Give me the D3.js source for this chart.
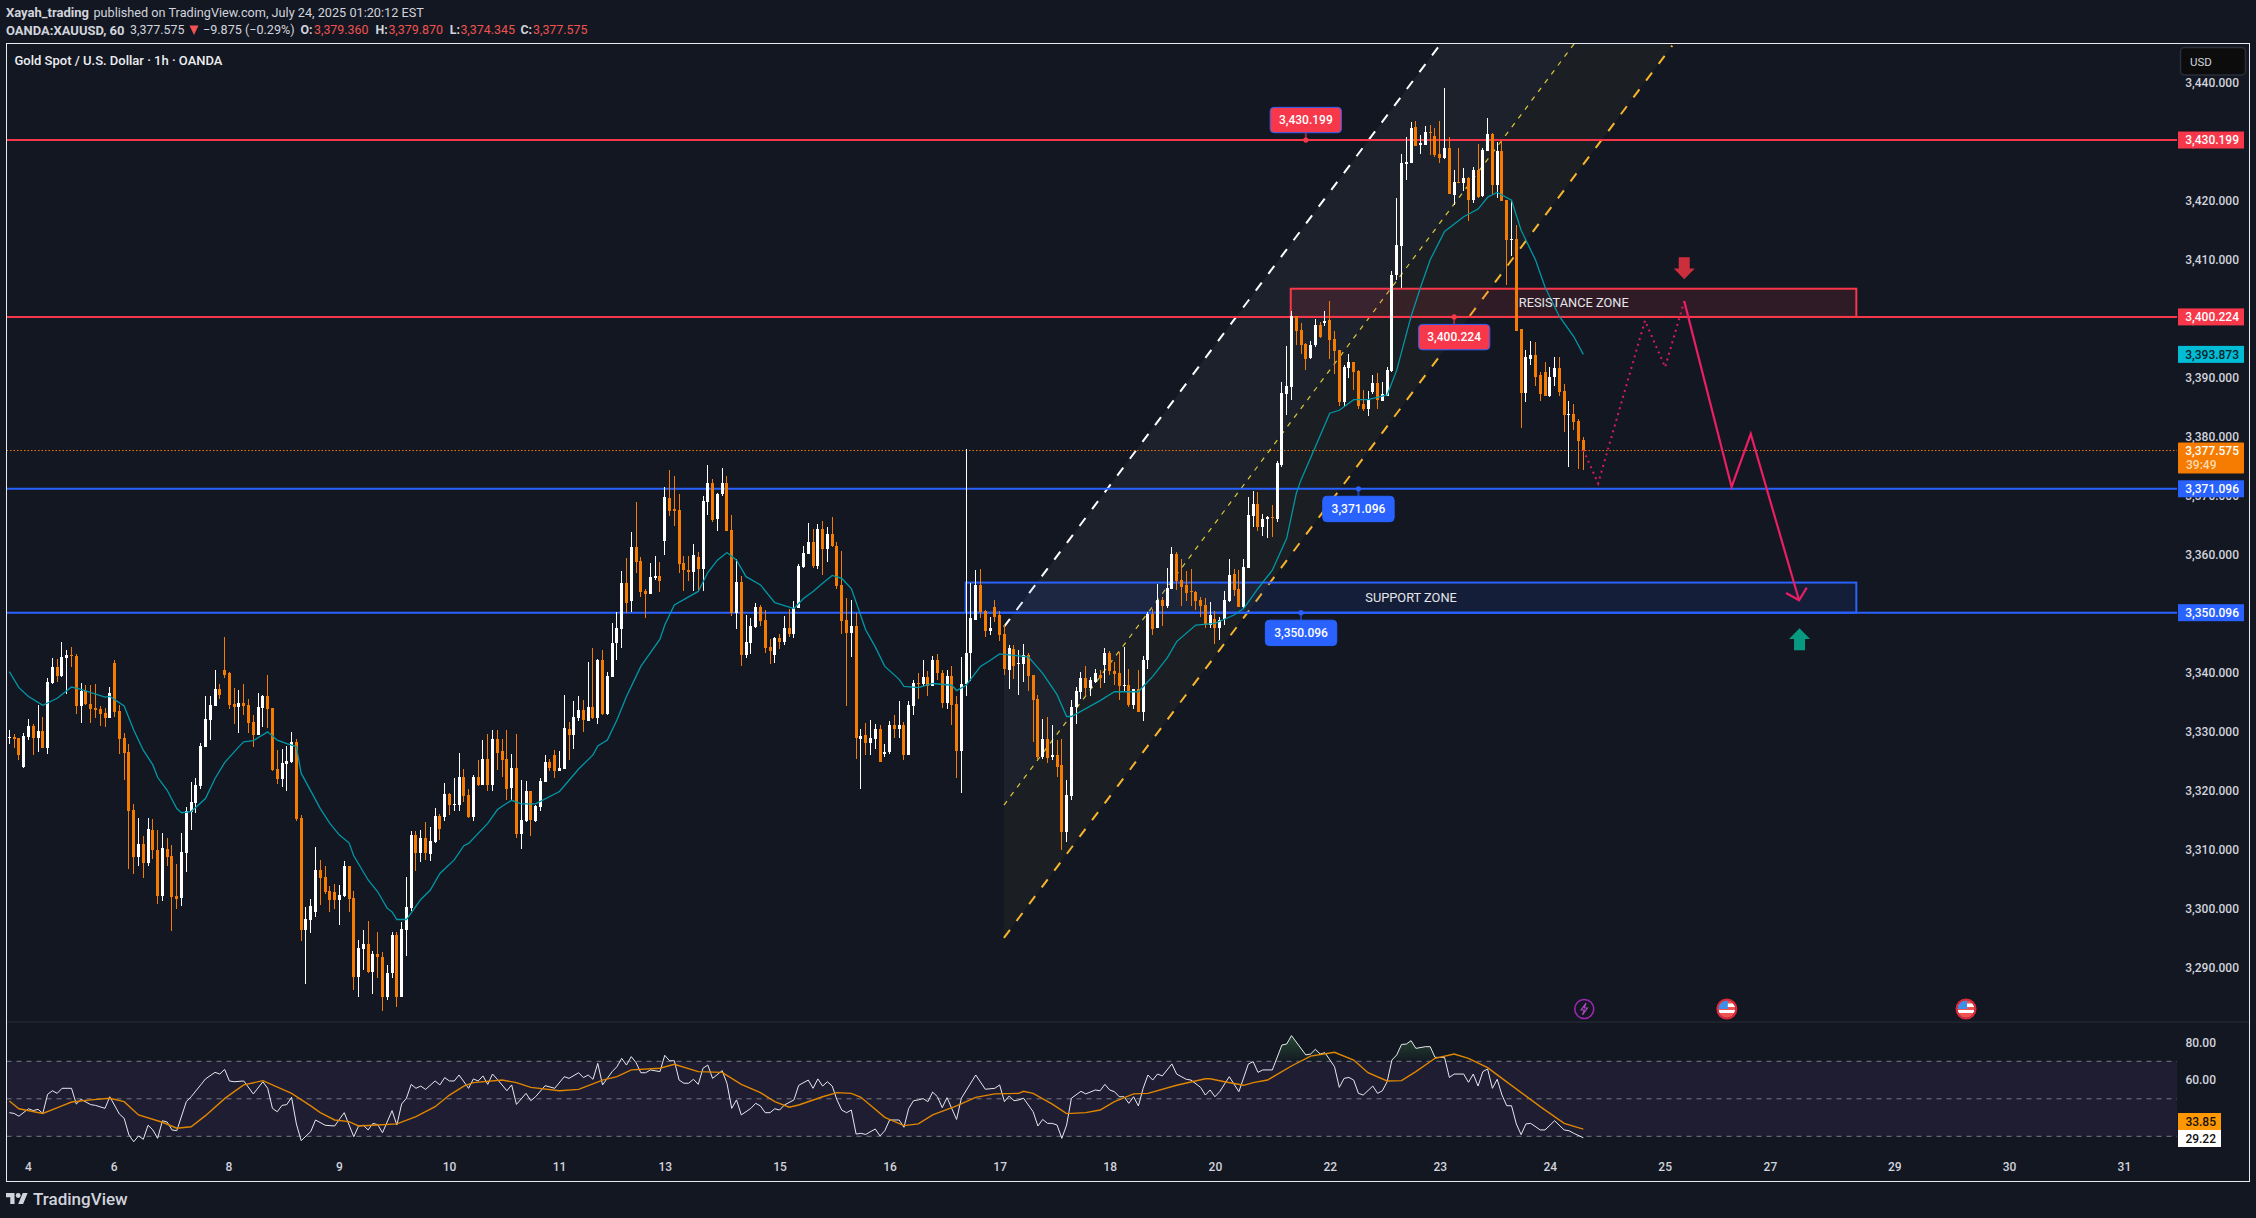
<!DOCTYPE html>
<html>
<head>
<meta charset="utf-8">
<script src="https://cdn.jsdelivr.net/npm/d3@7/dist/d3.min.js"></script>
<style>
    html, body { margin: 0; padding: 0; background: #131722; }
    svg { display: block; }
    text { font-family: Roboto, "Noto Sans", sans-serif; }
</style>
</head>
<body>
<svg id="chart" width="2256" height="1218"></svg>
<script>
// ---------------------------------------------------------------
// Data
// ---------------------------------------------------------------
const opens = [
    3328.9,3329.1,3328.9,3323.9,3329.1,3330.9,3328.9,3330.0,3327.2,3338.2,
    3340.9,3339.3,3342.4,3342.9,3342.7,3334.3,3336.8,3334.6,3333.9,3333.8,
    3333.1,3332.3,3341.6,3333.4,3328.9,3326.5,3316.7,3308.7,3310.9,3307.7,
    3313.3,3309.9,3302.1,3310.1,3308.9,3302.1,3301.8,3309.4,3316.4,3317.9,
    3320.7,3327.3,3331.9,3334.3,3337.2,3340.4,3339.9,3334.6,3334.1,3334.8,
    3334.5,3331.6,3329.4,3333.9,3335.9,3333.9,3323.6,3321.9,3324.5,3324.8,
    3328.2,3315.3,3296.4,3298.0,3299.4,3306.5,3305.3,3303.0,3302.8,3301.4,
    3302.1,3307.1,3301.8,3288.4,3293.1,3294.0,3289.2,3292.3,3291.8,3284.9,
    3289.0,3295.5,3284.9,3296.4,3300.1,3312.5,3309.4,3311.9,3309.2,3311.2,
    3315.7,3315.5,3319.4,3317.5,3317.5,3322.3,3319.2,3315.5,3322.3,3320.9,
    3325.3,3320.9,3328.7,3326.6,3325.3,3320.4,3323.8,3312.6,3314.8,3319.8,
    3314.8,3317.2,3321.4,3324.8,3325.9,3323.2,3323.6,3330.4,3329.4,3332.3,
    3333.6,3331.8,3334.1,3332.3,3342.0,3332.9,3339.2,3345.0,3347.3,3355.2,
    3352.0,3361.3,3358.8,3353.8,3353.3,3355.9,3356.3,3362.2,3369.5,3367.7,
    3367.5,3358.5,3357.4,3357.0,3359.5,3357.5,3368.8,3372.1,3365.9,3370.2,
    3372.1,3364.1,3350.1,3355.3,3342.9,3345.0,3347.7,3351.1,3348.9,3344.3,
    3342.9,3345.8,3345.2,3347.5,3346.5,3350.9,3357.9,3360.0,3362.0,3358.0,
    3364.3,3360.9,3363.4,3361.4,3354.8,3348.9,3346.7,3347.9,3328.7,3329.4,
    3328.0,3328.7,3330.4,3326.2,3326.5,3331.1,3330.4,3331.0,3326.0,3334.3,
    3338.2,3338.0,3339.2,3337.6,3342.1,3339.8,3334.8,3339.3,3334.6,3326.6,
    3338.0,3343.3,3348.9,3354.8,3350.4,3347.0,3351.0,3349.7,3346.5,3340.4,
    3344.0,3341.4,3341.4,3343.0,3339.6,3335.5,3325.6,3328.7,3325.6,3325.9,
    3324.2,3313.0,3319.0,3334.1,3336.6,3339.0,3337.4,3338.3,3339.6,3341.3,
    3343.3,3340.2,3339.8,3337.7,3337.9,3334.5,3337.2,3333.3,3342.0,3349.9,
    3347.5,3352.2,3351.3,3354.1,3360.0,3355.6,3354.8,3353.8,3353.6,3352.2,
    3351.4,3348.0,3349.0,3347.5,3349.0,3352.1,3356.7,3354.1,3351.1,3357.6,
    3366.5,3368.6,3364.7,3366.0,3366.3,3365.9,3375.2,3387.2,3388.3,3400.4,
    3398.0,3395.6,3393.3,3395.4,3398.8,3399.2,3399.7,3396.5,3394.6,3385.8,
    3391.5,3392.6,3391.0,3385.4,3384.6,3387.5,3389.0,3385.9,3386.8,3391.0,
    3407.3,3412.2,3426.1,3426.3,3432.4,3429.4,3429.4,3431.5,3430.8,3427.8,
    3427.1,3428.8,3420.8,3423.1,3422.9,3423.7,3420.1,3425.1,3420.7,3428.3,
    3431.2,3422.6,3428.3,3420.0,3413.3,3413.5,3398.1,3387.3,3393.1,3393.8,
    3390.4,3390.9,3386.8,3390.0,3391.5,3387.7,3383.6,3383.8,3382.5,3379.36
]
const highs = [
    3330.2,3329.6,3328.9,3329.7,3332.1,3331.2,3334.5,3332.5,3339.0,3342.4,
    3342.3,3345.2,3343.8,3344.3,3343.1,3338.2,3337.9,3337.9,3338.0,3334.3,
    3333.9,3337.5,3342.1,3334.5,3329.7,3327.9,3317.7,3315.3,3312.3,3315.3,
    3315.2,3313.3,3312.8,3311.9,3310.7,3307.5,3312.8,3317.2,3321.4,3322.1,
    3328.0,3335.9,3335.9,3340.4,3338.0,3346.0,3340.0,3337.3,3337.0,3338.0,
    3335.5,3332.8,3336.5,3336.1,3339.6,3333.9,3326.8,3327.0,3327.5,3329.9,
    3328.7,3315.8,3300.3,3301.6,3310.4,3308.2,3307.1,3303.8,3304.1,3304.0,
    3308.0,3307.2,3303.0,3294.6,3296.4,3297.8,3292.8,3296.0,3292.6,3290.4,
    3296.0,3296.0,3297.6,3305.3,3313.1,3313.1,3313.3,3314.7,3313.7,3317.0,
    3316.0,3321.2,3319.6,3322.1,3326.4,3323.6,3320.2,3322.6,3325.2,3328.6,
    3329.6,3330.2,3330.2,3328.7,3330.2,3326.2,3329.6,3321.8,3321.6,3319.9,
    3317.5,3322.0,3326.0,3325.3,3326.8,3326.6,3336.2,3331.6,3335.2,3336.0,
    3335.3,3341.8,3344.1,3342.3,3343.8,3340.0,3348.4,3350.2,3357.2,3359.3,
    3363.8,3368.8,3359.5,3354.1,3358.5,3359.7,3358.7,3371.4,3374.3,3373.3,
    3370.2,3359.7,3359.7,3361.8,3360.4,3369.9,3375.1,3372.7,3370.4,3374.6,
    3373.3,3366.7,3359.2,3356.3,3349.7,3349.2,3351.8,3351.4,3350.5,3345.7,
    3345.9,3346.5,3349.5,3350.7,3352.1,3358.4,3361.4,3365.3,3364.3,3365.1,
    3365.6,3364.7,3366.3,3362.0,3360.6,3352.6,3352.2,3350.1,3330.4,3331.4,
    3331.9,3331.2,3331.0,3327.9,3331.8,3332.7,3335.2,3331.6,3335.2,3338.7,
    3339.8,3342.1,3340.2,3342.7,3343.1,3340.3,3340.3,3341.1,3336.0,3342.6,
    3377.8,3355.2,3357.4,3357.5,3350.5,3349.3,3352.2,3350.4,3348.1,3344.6,
    3344.6,3343.8,3344.8,3343.2,3339.6,3336.2,3332.1,3332.5,3331.1,3328.6,
    3328.7,3321.8,3335.3,3337.5,3340.0,3341.1,3339.2,3340.6,3340.3,3344.1,
    3343.6,3341.8,3343.4,3344.3,3340.6,3337.2,3340.3,3342.7,3350.2,3350.7,
    3355.0,3352.7,3357.6,3361.3,3360.4,3359.2,3357.2,3357.5,3353.8,3352.7,
    3352.6,3351.9,3350.4,3349.4,3353.8,3359.2,3357.5,3357.4,3359.2,3369.7,
    3370.8,3370.6,3366.9,3366.5,3368.3,3375.8,3389.2,3395.3,3401.3,3400.4,
    3399.2,3395.8,3396.1,3399.9,3399.3,3401.2,3402.9,3397.8,3394.6,3392.0,
    3393.9,3392.6,3391.2,3387.9,3387.7,3390.4,3390.7,3389.2,3391.7,3408.0,
    3420.3,3427.8,3430.7,3433.2,3433.5,3431.0,3432.6,3432.7,3432.2,3433.4,
    3439.0,3430.7,3425.1,3428.8,3425.4,3423.9,3425.6,3429.6,3428.8,3433.9,
    3431.4,3429.8,3430.0,3420.0,3420.0,3415.8,3398.1,3394.7,3396.1,3395.9,
    3390.9,3392.6,3391.7,3393.4,3393.4,3388.8,3385.9,3385.4,3382.9,3379.87
]
const lows = [
    3327.9,3327.1,3325.2,3323.7,3328.6,3325.9,3326.5,3327.2,3326.2,3338.0,
    3338.4,3339.2,3336.3,3340.9,3332.9,3331.4,3334.5,3331.4,3332.3,3330.9,
    3330.7,3332.3,3332.5,3326.2,3321.8,3306.7,3305.8,3307.2,3305.1,3307.2,
    3308.4,3300.8,3301.2,3307.2,3296.2,3299.8,3300.4,3306.2,3313.3,3316.2,
    3320.2,3327.3,3328.6,3334.3,3335.5,3339.0,3333.8,3331.2,3329.7,3332.8,
    3329.7,3327.3,3329.4,3330.7,3330.6,3323.3,3321.1,3320.6,3319.9,3324.6,
    3314.8,3294.4,3287.1,3295.8,3298.5,3300.6,3302.4,3299.4,3299.8,3297.2,
    3301.9,3299.4,3286.2,3284.9,3289.6,3289.1,3285.5,3288.2,3282.6,3284.4,
    3288.2,3283.3,3284.9,3291.9,3299.6,3306.4,3307.9,3308.2,3308.0,3311.1,
    3311.6,3314.8,3315.8,3316.5,3316.5,3318.0,3315.3,3314.8,3320.7,3320.9,
    3319.9,3319.9,3323.4,3322.3,3318.4,3318.4,3311.9,3310.1,3314.6,3312.3,
    3314.6,3316.5,3321.4,3323.3,3322.0,3323.2,3323.6,3325.2,3327.0,3331.8,
    3329.8,3331.8,3332.1,3331.2,3332.8,3332.8,3339.2,3342.0,3344.1,3350.0,
    3350.2,3356.8,3352.7,3349.2,3353.3,3355.6,3353.6,3359.9,3366.5,3364.8,
    3356.8,3353.8,3355.4,3353.8,3353.6,3353.8,3366.7,3365.4,3363.9,3369.9,
    3363.9,3349.6,3347.3,3341.1,3342.5,3343.1,3347.5,3347.9,3343.3,3341.4,
    3341.6,3344.0,3344.6,3345.9,3345.8,3350.9,3357.6,3360.0,3357.6,3357.5,
    3356.5,3358.7,3361.3,3354.1,3346.5,3334.3,3342.6,3325.3,3320.2,3325.9,
    3325.9,3327.0,3324.8,3325.7,3326.1,3328.9,3328.9,3325.2,3326.0,3332.8,
    3335.5,3337.7,3336.0,3337.6,3338.7,3334.0,3333.8,3331.0,3322.0,3319.6,
    3336.0,3338.6,3348.9,3349.2,3345.9,3346.3,3348.5,3345.3,3339.5,3337.1,
    3338.8,3336.1,3338.3,3336.8,3328.1,3325.3,3325.3,3324.6,3325.2,3322.3,
    3309.8,3311.2,3318.4,3331.2,3335.5,3336.0,3336.0,3338.1,3337.4,3338.1,
    3339.6,3337.9,3335.3,3336.8,3334.1,3333.8,3333.3,3331.8,3340.6,3346.3,
    3347.5,3347.8,3350.9,3354.1,3353.9,3351.3,3352.1,3351.3,3350.5,3349.4,
    3347.5,3347.5,3344.8,3345.4,3348.0,3351.9,3352.9,3351.1,3350.9,3357.6,
    3364.7,3363.9,3363.1,3362.7,3362.9,3365.4,3374.8,3383.6,3386.1,3395.4,
    3393.9,3391.3,3393.1,3395.1,3396.7,3398.6,3393.1,3390.6,3385.2,3385.2,
    3389.9,3387.9,3384.6,3384.3,3383.4,3387.2,3384.6,3385.9,3386.8,3390.9,
    3406.5,3405.1,3423.5,3426.3,3429.2,3427.8,3429.4,3427.6,3427.4,3426.3,
    3426.9,3421.0,3419.2,3422.9,3421.5,3416.5,3419.5,3420.3,3420.5,3428.3,
    3421.0,3420.3,3419.8,3405.6,3410.6,3397.9,3381.4,3385.8,3392.0,3388.5,
    3385.9,3386.8,3386.6,3388.5,3386.8,3380.7,3374.8,3381.1,3374.5,3374.345
]
const closes = [
    3329.1,3328.7,3325.9,3329.2,3330.9,3328.9,3330.0,3327.2,3338.4,3340.9,
    3339.3,3342.6,3342.9,3342.7,3334.3,3336.8,3334.6,3333.8,3333.6,3332.9,
    3332.3,3336.5,3333.3,3328.7,3326.4,3316.5,3308.7,3310.9,3307.7,3313.5,
    3309.8,3302.1,3310.3,3308.7,3301.9,3301.6,3309.6,3316.5,3318.0,3320.9,
    3327.5,3332.1,3334.5,3337.2,3336.1,3339.5,3334.5,3334.1,3334.8,3334.3,
    3331.4,3329.4,3334.1,3335.9,3333.8,3323.4,3321.9,3324.6,3325.0,3328.2,
    3315.2,3296.4,3298.2,3300.4,3306.5,3305.1,3302.8,3301.4,3301.4,3302.3,
    3307.2,3301.6,3288.4,3293.3,3294.0,3289.2,3292.3,3291.8,3284.9,3289.1,
    3295.5,3284.9,3296.5,3300.3,3312.5,3309.4,3311.9,3309.4,3311.4,3315.7,
    3313.5,3319.4,3317.5,3317.7,3322.3,3319.1,3315.5,3322.3,3320.9,3325.3,
    3320.9,3328.7,3326.4,3325.2,3320.2,3323.8,3312.6,3315.0,3319.8,3315.0,
    3317.3,3321.6,3324.8,3323.8,3323.3,3323.8,3330.6,3329.4,3332.5,3333.6,
    3331.9,3334.1,3332.3,3342.1,3332.9,3339.3,3345.0,3347.5,3355.2,3351.8,
    3361.3,3358.7,3353.6,3353.3,3356.1,3356.3,3355.4,3369.7,3367.4,3367.4,
    3358.4,3357.4,3357.0,3359.9,3357.5,3369.0,3372.1,3365.8,3370.2,3372.1,
    3363.9,3350.1,3355.3,3342.9,3345.2,3347.9,3351.1,3348.7,3344.1,3343.6,
    3345.8,3345.2,3347.5,3346.5,3350.9,3358.0,3360.2,3362.0,3358.0,3364.3,
    3360.9,3363.4,3361.4,3354.6,3348.7,3346.7,3347.9,3328.9,3329.2,3328.0,
    3328.9,3330.4,3324.8,3326.5,3331.1,3330.4,3331.0,3326.0,3334.5,3338.2,
    3338.0,3339.2,3337.6,3342.1,3339.8,3334.8,3339.3,3334.5,3326.6,3338.0,
    3343.3,3349.2,3354.8,3350.2,3347.0,3347.5,3349.4,3346.3,3340.5,3344.1,
    3341.1,3341.6,3343.0,3339.4,3335.3,3325.6,3328.7,3325.4,3325.9,3324.0,
    3313.0,3319.2,3334.1,3336.8,3339.0,3337.4,3338.7,3339.8,3339.0,3343.3,
    3340.2,3339.7,3337.7,3337.9,3334.5,3337.2,3333.3,3342.1,3349.9,3347.3,
    3352.2,3351.3,3354.3,3360.0,3355.4,3354.5,3353.4,3353.6,3352.1,3351.3,
    3348.0,3349.7,3347.5,3348.9,3352.2,3356.5,3353.9,3351.1,3357.9,3366.7,
    3368.6,3364.7,3366.0,3366.3,3366.2,3375.4,3387.3,3388.5,3400.4,3397.8,
    3395.4,3393.1,3395.4,3398.8,3396.8,3399.5,3396.3,3394.4,3385.8,3391.7,
    3392.6,3390.9,3385.2,3384.6,3386.1,3389.0,3386.1,3387.2,3391.3,3407.4,
    3412.4,3426.3,3426.4,3432.2,3429.2,3429.7,3431.5,3431.4,3427.6,3427.1,
    3428.8,3421.0,3423.1,3422.9,3423.7,3420.1,3425.1,3420.5,3428.5,3431.2,
    3422.6,3428.3,3419.8,3413.3,3413.5,3397.9,3387.3,3393.4,3393.8,3390.0,
    3387.2,3386.8,3390.0,3391.5,3387.5,3383.6,3383.8,3382.4,3379.2,3377.575
]

// moving average on the candles: bar index and value of each vertex
const maBars = [
    0,2,4,7,10,13,15,20,21,24,26,28,30,31,33,35,36,38,41,43,45,48,49,51,54,56,58,60,61,63,
    65,67,69,71,72,75,77,79,80,81,83,86,88,90,93,95,96,100,102,
    103,105,107,110,115,117,119,122,123,125,127,129,132,136,137,139,144,146,148,150,152,154,157,160,
    164,166,168,170,172,174,176,179,181,183,186,187,190,193,197,198,200,203,205,207,
    213,216,219,221,222,228,231,236,239,242,244,248,252,256,258,261,264,267,269,
    270,273,276,278,281,284,288,290,293,295,297,300,304,307,309,311,314,316,319,321,324,327,329
]
const maValues = [
    3340.1,3337.4,3335.9,3334.4,3335.6,3337.5,3337.1,3335.8,3335.9,3334.3,3330.2,3326.8,3324.3,3322.2,3320.0,3316.9,3316.2,3316.4,3318.6,3322.0,3324.7,3327.4,3328.2,3328.4,3329.9,3328.5,3327.9,3327.4,3322.9,3319.9,
    3316.9,3314.4,3312.4,3311.1,3308.9,3304.8,3302.8,3300.0,3299.4,3298.1,3298.1,3301.5,3303.1,3305.9,3308.2,3310.6,3311.0,3314.4,3316.7,
    3317.3,3318.3,3317.7,3317.7,3319.8,3321.7,3323.6,3326.0,3327.5,3328.5,3331.9,3335.9,3341.0,3345.6,3348.0,3351.4,3353.7,3356.9,3359.0,3360.3,3359.0,3356.2,3354.8,3351.8,
    3350.8,3352.5,3353.7,3355.1,3356.4,3355.9,3354.2,3347.2,3344.3,3341.0,3338.8,3337.6,3337.4,3338.1,3337.8,3336.9,3337.8,3341.0,3342.0,3343.1,
    3342.6,3339.8,3336.2,3332.5,3332.5,3335.2,3336.7,3336.7,3339.3,3342.4,3345.2,3348.0,3348.3,3349.7,3350.8,3354.2,3357.3,3362.7,3370.3,
    3372.6,3378.2,3383.9,3384.4,3386.2,3386.2,3387.0,3391.2,3400.3,3405.3,3409.9,3414.7,3417.2,3418.5,3420.5,3421.3,3420.0,3414.9,3409.9,3405.3,3400.3,3396.9,3393.873
]

// RSI pane: bar index and value of each vertex
const rsiBars = [
    0,1,2,4,5,6,7,8,9,10,11,13,14,15,17,18,20,21,23,24,25,26,27,28,29,30,31,32,33,34,35,37,38,40,41,43,44,45,46,47,49,51,53,54,55,56,57,58,59,60,
    61,63,64,66,68,70,72,73,74,75,76,77,78,80,81,82,83,84,85,86,87,89,90,91,92,93,94,96,97,98,99,100,101,102,104,105,106,108,109,110,112,114,116,117,119,120,121,122,123,124,
    126,127,128,129,130,131,132,133,134,136,137,138,139,140,141,142,143,144,145,146,147,149,150,151,152,153,155,156,157,158,159,160,161,162,164,165,167,168,169,170,171,172,173,174,175,176,177,178,179,181,
    182,183,184,186,187,188,189,190,191,192,193,194,195,196,198,199,202,204,206,207,208,209,210,211,212,214,215,216,217,218,219,220,221,222,224,225,227,228,229,230,231,232,233,234,235,236,237,238,239,240,
    241,243,244,246,247,249,250,251,252,253,255,257,259,260,261,262,264,266,267,268,271,272,273,274,275,277,278,279,280,281,282,283,285,286,287,288,289,290,291,292,293,294,296,297,298,300,301,302,304,305,
    306,307,308,309,310,311,312,313,314,315,316,317,318,320,321,323,325,326,327,329
]
const rsiValues = [
    42.6,42.2,40.7,44.7,43.7,44.4,42.2,52.4,54.3,52.9,55.6,55.6,47.2,49.7,46.9,46.5,44.9,51.1,41.9,39.6,30.7,27.1,30.2,28.4,35.9,33.4,28.9,38.3,37.6,33.4,33.0,48.5,51.1,57.4,60.6,64.1,63.2,65.7,59.5,59.1,59.5,52.6,59.1,55.6,44.9,43.1,46.5,46.9,50.8,36.6,
    27.7,32.5,38.7,35.9,35.5,42.6,29.8,35.5,35.9,33.4,36.9,36.2,31.9,43.7,36.0,47.2,50.3,57.7,55.6,56.8,55.0,59.5,57.4,61.3,59.5,59.5,62.7,55.6,60.6,59.5,62.2,57.7,63.2,60.4,54.3,57.4,47.0,52.9,49.0,51.1,57.0,55.6,61.8,60.9,63.9,61.3,62.7,60.4,68.9,57.4,
    64.5,67.1,71.6,68.0,72.5,69.3,63.9,63.9,65.4,64.5,73.2,70.3,70.3,60.0,58.3,58.3,60.4,57.7,66.3,68.0,60.9,65.0,58.3,44.9,49.4,41.4,44.9,47.6,46.2,42.6,42.6,44.7,44.0,46.7,49.4,57.2,60.0,55.6,60.6,56.8,59.1,56.8,49.4,44.0,42.6,44.0,31.2,31.6,31.0,33.9,
    30.2,33.0,38.7,38.7,34.8,44.9,49.0,49.4,50.1,48.5,53.6,51.1,45.3,50.6,39.0,50.3,62.7,55.1,55.6,57.4,48.5,51.5,49.0,49.4,50.3,43.1,35.5,39.0,36.9,36.9,36.0,28.9,36.0,50.3,54.0,52.6,54.7,54.3,57.7,54.7,53.8,51.1,51.1,47.6,51.1,46.2,55.6,62.7,60.0,63.2,
    62.2,68.6,63.2,60.4,60.0,56.1,52.0,54.7,51.1,53.8,61.8,53.8,68.6,69.8,64.1,65.4,65.4,78.7,79.2,83.7,73.4,73.9,76.4,73.9,74.6,67.1,56.1,60.9,61.4,60.0,52.9,52.0,56.8,52.9,54.3,59.1,70.7,73.4,79.0,79.2,81.0,76.9,77.8,77.8,72.1,72.1,61.4,63.2,63.2,58.8,
    63.2,56.8,64.5,65.9,55.6,60.4,52.0,46.3,46.3,36.6,30.9,36.6,36.9,33.4,33.4,38.3,33.4,33.0,31.6,29.22
]
const rsiMaBars = [
    0,2,7,11,13,17,21,24,27,32,35,38,41,45,47,49,53,59,63,65,68,71,73,77,81,85,89,92,95,97,103,106,109,115,119,124,127,130,136,139,144,149,153,157,160,163,165,
    170,173,176,178,183,187,190,193,198,202,206,211,212,214,218,221,225,228,231,235,238,244,250,251,254,258,260,263,268,272,277,281,284,288,291,294,298,302,305,309,312,320,325,329
]
const rsiMaValues = [
    48.8,44.7,42.2,46.2,48.3,49.4,50.3,48.5,41.4,37.5,34.3,35.1,41.0,50.1,53.8,57.4,59.7,52.9,46.2,42.6,38.7,37.8,35.5,36.0,36.6,40.5,45.8,52.0,56.8,58.6,60.0,58.6,56.1,54.3,55.0,60.0,61.8,65.4,66.3,68.4,64.5,64.1,57.7,53.3,48.5,45.5,46.7,
    51.1,53.3,52.9,50.8,40.1,35.7,36.6,41.4,46.2,50.8,52.6,52.9,54.0,52.9,47.2,42.1,42.6,44.0,48.5,52.6,52.9,57.2,60.7,60.7,59.1,57.2,58.6,60.0,67.5,72.8,74.8,70.7,63.9,59.5,59.7,64.5,71.6,73.9,71.6,66.6,60.9,45.8,36.9,33.85
]

const priceTicks = [3440,3430,3420,3410,3400,3390,3380,3370,3360,3350,3340,3330,3320,3310,3300,3290]
const rsiTicks = [80, 60]
const rsiBands = [70, 50, 30]
const dayBars = [3.9,21.8,45.8,68.9,91.9,114.9,137,161,184,207,230,252,276,299,322,346,368,394,418,442]
const dayLabels = ['4','6','8','9','10','11','13','15','16','17','18','20','22','23','24','25','27','29','30','31']

const levelPrices = [3430.199, 3400.224, 3371.096, 3350.096]
const levelLabels = ['3,430.199', '3,400.224', '3,371.096', '3,350.096']
const levelKinds = ['res', 'res', 'sup', 'sup']
const calloutBars = [271, 302, 282, 270]

const zoneNames = ['RESISTANCE ZONE', 'SUPPORT ZONE']
const zoneBars = [[267.85, 386.07], [199.9, 386.07]]
const zonePrices = [[3405.0, 3400.224], [3355.2, 3350.096]]
const zoneLabelBars = [327, 293]
const zoneKinds = ['res', 'sup']

const channelBars = [207.9, 347.6]
const channelUpper = [3347.7, 3498.9]
const channelMiddle = [3317.5, 3468.7]
const channelLower = [3295.0, 3446.2]

const dottedBars = [329, 332.1, 341.9, 346.1, 350.1]
const dottedPrices = [3377.7, 3372.0, 3399.6, 3391.7, 3402.9]
const pathBars = [350.1, 360, 364, 374.1]
const pathPrices = [3402.9, 3371.4, 3380.4, 3352.2]

const lastPrice = 3377.575
const maLast = 3393.873
const lightningBar = 329.2
const flagBars = [359, 409]
const downArrow = { bar: 350.1, price: 3406.6 }
const upArrow = { bar: 374.2, price: 3347.45 }

// ---------------------------------------------------------------
// Layout and colours
// ---------------------------------------------------------------
const BG = '#131722'
const TEXT = '#d1d4dc'
const UP = '#ffffff'
const DOWN = '#f57c00'
const RED = '#f7374a'
const BLUE = '#2962ff'
const FRAME = { left: 6.5, top: 43.5, right: 2249.5, bottom: 1181.5 }
const PLOT_RIGHT = 2177
const PANE_SPLIT = 1022
const AXIS_TEXT_X = 2239

const svg = d3.select('#chart')

const x = d3.scaleLinear().domain([0, 329]).range([9.33, 1583.3])
const y = d3.scaleLinear().domain([3440, 3290]).range([82.2, 967.3])
const yRsi = d3.scaleLinear().domain([70, 30]).range([1061.3, 1136.3])

svg.append('rect').attr('width', 2256).attr('height', 1218).attr('fill', BG)

const defs = svg.append('defs')
defs.append('clipPath').attr('id', 'mainClip').append('rect')
    .attr('x', FRAME.left).attr('y', FRAME.top)
    .attr('width', PLOT_RIGHT - FRAME.left).attr('height', PANE_SPLIT - FRAME.top)
defs.append('clipPath').attr('id', 'aboveBand').append('rect')
    .attr('x', FRAME.left).attr('y', PANE_SPLIT)
    .attr('width', PLOT_RIGHT - FRAME.left).attr('height', yRsi(70) - PANE_SPLIT)
const grad = defs.append('linearGradient').attr('id', 'rsiGreen')
    .attr('x1', 0).attr('x2', 0).attr('y1', 0).attr('y2', 1)
    .attr('gradientUnits', 'userSpaceOnUse')
    .attr('y1', yRsi(84)).attr('y2', yRsi(70))
grad.append('stop').attr('offset', 0).attr('stop-color', '#4caf50').attr('stop-opacity', 0.32)
grad.append('stop').attr('offset', 1).attr('stop-color', '#4caf50').attr('stop-opacity', 0.02)

function label(parent, tx, ty, str, size, fill, weight, anchor) {
    return parent.append('text')
        .attr('x', tx).attr('y', ty).attr('dy', '.35em')
        .attr('text-anchor', anchor || 'start')
        .style('font-size', size + 'px')
        .style('font-weight', weight || 400)
        .attr('fill', fill)
        .text(str)
}

// ---------------------------------------------------------------
// Header
// ---------------------------------------------------------------
const head = svg.append('g')
label(head, 6, 12.8, 'Xayah_trading', 13, TEXT, 700)
label(head, 93.4, 12.8, 'published on TradingView.com, July 24, 2025 01:20:12 EST', 12.7, TEXT)
label(head, 6, 30, 'OANDA:XAUUSD, 60', 13, TEXT, 700)
label(head, 130, 30, '3,377.575', 12.4, TEXT)
head.append('path').attr('d', 'M189.5,25.5h9l-4.5,9.5z').attr('fill', '#f05350')
label(head, 203, 30, '\u22129.875 (\u22120.29%)', 12.6, TEXT)
const ohlcNames = ['O:', 'H:', 'L:', 'C:']
const ohlcValues = ['3,379.360', '3,379.870', '3,374.345', '3,377.575']
const ohlcNameX = [300.4, 375.4, 449.7, 520.5]
const ohlcValueX = [314, 388.4, 460.4, 533]
ohlcNames.forEach((n, i) => {
    label(head, ohlcNameX[i], 30, n, 12.4, TEXT, 700)
    label(head, ohlcValueX[i], 30, ohlcValues[i], 12.4, '#ef5350')
})

// ---------------------------------------------------------------
// Main pane
// ---------------------------------------------------------------
const main = svg.append('g').attr('clip-path', 'url(#mainClip)')

// channel fill, two bands
function channelBand(a, b, fill) {
    const pts = [[channelBars[0], a[0]], [channelBars[1], a[1]], [channelBars[1], b[1]], [channelBars[0], b[0]]]
    main.append('path')
        .attr('d', d3.line().x(d => x(d[0])).y(d => y(d[1]))(pts) + 'Z')
        .attr('fill', fill)
}
channelBand(channelUpper, channelMiddle, 'rgba(120,123,134,0.1)')
channelBand(channelMiddle, channelLower, 'rgba(255,235,59,0.035)')

function channelLine(vals, color, width, dash) {
    main.append('line')
        .attr('x1', x(channelBars[0])).attr('y1', y(vals[0]))
        .attr('x2', x(channelBars[1])).attr('y2', y(vals[1]))
        .attr('stroke', color).attr('stroke-width', width).attr('stroke-dasharray', dash)
}
channelLine(channelUpper, '#ffffff', 2, '10 11')
channelLine(channelMiddle, '#d9c93a', 1.2, '5 6')
channelLine(channelLower, '#f7b52c', 2, '10 11')

// zones
zoneNames.forEach((n, i) => {
    const col = zoneKinds[i] === 'res' ? RED : BLUE
    main.append('rect')
        .attr('x', x(zoneBars[i][0])).attr('y', y(zonePrices[i][0]))
        .attr('width', x(zoneBars[i][1]) - x(zoneBars[i][0]))
        .attr('height', y(zonePrices[i][1]) - y(zonePrices[i][0]))
        .attr('fill', zoneKinds[i] === 'res' ? 'rgba(242,54,69,0.13)' : 'rgba(41,98,255,0.1)')
        .attr('stroke', col).attr('stroke-width', 2)
})

// horizontal levels
levelPrices.forEach((p, i) => {
    main.append('line')
        .attr('x1', FRAME.left).attr('x2', PLOT_RIGHT)
        .attr('y1', y(p)).attr('y2', y(p))
        .attr('stroke', levelKinds[i] === 'res' ? RED : BLUE)
        .attr('stroke-width', 2)
})

// last price line
main.append('line')
    .attr('x1', FRAME.left).attr('x2', PLOT_RIGHT)
    .attr('y1', y(lastPrice)).attr('y2', y(lastPrice))
    .attr('stroke', DOWN).attr('stroke-width', 1).attr('stroke-dasharray', '1.5 2')

// candles
const candles = main.append('g')
closes.forEach((c, i) => {
    const color = c >= opens[i] ? UP : DOWN
    const cx = Math.floor(x(i))
    const top = Math.round(y(Math.max(opens[i], c)))
    const bot = Math.round(y(Math.min(opens[i], c)))
    candles.append('rect')
        .attr('x', cx).attr('width', 1)
        .attr('y', Math.round(y(highs[i])))
        .attr('height', Math.max(1, Math.round(y(lows[i])) - Math.round(y(highs[i]))))
        .attr('fill', color)
    candles.append('rect')
        .attr('x', cx - 1).attr('width', 3)
        .attr('y', top).attr('height', Math.max(1, bot - top))
        .attr('fill', color)
})

// moving average
main.append('path')
    .attr('d', d3.line().x((d, i) => x(maBars[i])).y(d => y(d))(maValues))
    .attr('fill', 'none').attr('stroke', '#0097a7').attr('stroke-width', 1.3)

// zone captions
zoneNames.forEach((n, i) => {
    const midY = (y(zonePrices[i][0]) + y(zonePrices[i][1])) / 2
    label(main, x(zoneLabelBars[i]), midY, n, 12.8, '#e4e6eb', 400, 'middle')
})

// projected path
main.append('path')
    .attr('d', d3.line().x((d, i) => x(dottedBars[i])).y(d => y(d))(dottedPrices))
    .attr('fill', 'none').attr('stroke', '#d81b60').attr('stroke-width', 2)
    .attr('stroke-dasharray', '2 4')
main.append('path')
    .attr('d', d3.line().x((d, i) => x(pathBars[i])).y(d => y(d))(pathPrices))
    .attr('fill', 'none').attr('stroke', '#e91e63').attr('stroke-width', 2.2)
const tipX = x(pathBars[3])
const tipY = y(pathPrices[3])
main.append('path')
    .attr('d', `M${tipX - 13},${tipY - 7.3}L${tipX},${tipY}L${tipX + 7.7},${tipY - 12.7}`)
    .attr('fill', 'none').attr('stroke', '#e91e63').attr('stroke-width', 2.2)

// block arrows; the price anchors the tip, dir -1 points down and +1 points up
function blockArrow(bar, price, dir, color) {
    const cx = x(bar)
    const cy = y(price)
    const pts = [
        [cx, cy],
        [cx + 10.5, cy + dir * 10.7],
        [cx + 5.5, cy + dir * 10.7],
        [cx + 5.5, cy + dir * 22],
        [cx - 5.5, cy + dir * 22],
        [cx - 5.5, cy + dir * 10.7],
        [cx - 10.5, cy + dir * 10.7]
    ]
    main.append('path').attr('d', d3.line()(pts) + 'Z').attr('fill', color)
}
blockArrow(downArrow.bar, downArrow.price, -1, '#cc2f3c')
blockArrow(upArrow.bar, upArrow.price, 1, '#089981')

// callouts hanging off the levels
levelPrices.forEach((p, i) => {
    const res = levelKinds[i] === 'res'
    const above = i === 0
    const cx = x(calloutBars[i])
    const ly = y(p)
    const boxTop = above ? ly - 32.7 : ly + 7.5
    const col = res ? RED : BLUE
    main.append('line')
        .attr('x1', cx).attr('x2', cx)
        .attr('y1', ly).attr('y2', above ? boxTop + 25 : boxTop)
        .attr('stroke', col).attr('stroke-opacity', 0.6).attr('stroke-width', 2)
    main.append('circle').attr('cx', cx).attr('cy', ly).attr('r', 2.6).attr('fill', col)
    main.append('rect')
        .attr('x', cx - 35.7).attr('y', boxTop)
        .attr('width', 71.4).attr('height', 25.4).attr('rx', 4)
        .attr('fill', col)
        .attr('stroke', BLUE).attr('stroke-width', 1)
    label(main, cx, boxTop + 12.5, levelLabels[i], 12, '#ffffff', 500, 'middle')
})

// ---------------------------------------------------------------
// Price axis
// ---------------------------------------------------------------
const yAxis = d3.axisRight(y).tickValues(priceTicks)
    .tickSize(0).tickPadding(0).tickFormat(d3.format(',.3f'))
const yAxisG = svg.append('g').attr('transform', `translate(${AXIS_TEXT_X},0)`).call(yAxis)
yAxisG.select('.domain').remove()
yAxisG.selectAll('text')
    .attr('text-anchor', 'end')
    .attr('fill', TEXT)
    .style('font-family', 'Roboto, sans-serif')
    .style('font-size', '12px')
    .style('font-weight', 500)

function priceTag(py, str, fill, color) {
    svg.append('rect').attr('x', 2178).attr('y', py - 8.5).attr('width', 66).attr('height', 17).attr('fill', fill)
    label(svg, AXIS_TEXT_X, py, str, 12, color, 500, 'end')
}
levelPrices.forEach((p, i) => {
    priceTag(y(p), levelLabels[i], levelKinds[i] === 'res' ? RED : BLUE, '#ffffff')
})
priceTag(y(maLast), d3.format(',.3f')(maLast), '#00bcd4', '#06222a')

// last price tag with countdown
svg.append('rect').attr('x', 2178).attr('y', y(lastPrice) - 8).attr('width', 66).attr('height', 31).attr('rx', 1).attr('fill', DOWN)
label(svg, AXIS_TEXT_X, y(lastPrice), d3.format(',.3f')(lastPrice), 12, '#ffffff', 500, 'end')
label(svg, 2186, y(lastPrice) + 14, '39:49', 12, '#ffd9ae', 500)

// currency button
svg.append('rect').attr('x', 2180.5).attr('y', 47.5).attr('width', 65).attr('height', 27.5).attr('rx', 4)
    .attr('fill', '#0c0c0d').attr('stroke', '#2a2e39').attr('stroke-width', 1.5)
label(svg, 2190, 61.5, 'USD', 11.5, TEXT)

// ---------------------------------------------------------------
// Event markers on the pane edge
// ---------------------------------------------------------------
const EVENT_Y = 1009
const bolt = svg.append('g').attr('transform', `translate(${x(lightningBar)},${EVENT_Y})`)
bolt.append('circle').attr('r', 9.5).attr('fill', BG).attr('stroke', '#9c27b0').attr('stroke-width', 1.6)
bolt.append('path').attr('d', 'M1.8,-6L-3.2,1H0L-1.8,6L3.2,-1H0Z')
    .attr('fill', 'none').attr('stroke', '#ab47bc').attr('stroke-width', 1.2)

flagBars.forEach((b, i) => {
    const id = 'flagClip' + i
    defs.append('clipPath').attr('id', id).append('circle').attr('r', 8.5)
    const f = svg.append('g').attr('transform', `translate(${x(b)},${EVENT_Y})`)
    const inner = f.append('g').attr('clip-path', `url(#${id})`)
    inner.append('rect').attr('x', -9).attr('y', -9).attr('width', 18).attr('height', 18).attr('fill', '#ffffff')
    inner.append('rect').attr('x', -9).attr('y', -9).attr('width', 18).attr('height', 3.5).attr('fill', '#ef5350')
    inner.append('rect').attr('x', -9).attr('y', -2).attr('width', 18).attr('height', 3).attr('fill', '#ef5350')
    inner.append('rect').attr('x', -9).attr('y', 4).attr('width', 18).attr('height', 5).attr('fill', '#ef5350')
    inner.append('rect').attr('x', -9).attr('y', -9).attr('width', 10).attr('height', 9).attr('fill', '#3f8ee8')
    f.append('circle').attr('r', 9.5).attr('fill', 'none').attr('stroke', '#e0283a').attr('stroke-width', 2)
})

// ---------------------------------------------------------------
// RSI pane
// ---------------------------------------------------------------
svg.append('line')
    .attr('x1', FRAME.left).attr('x2', FRAME.right)
    .attr('y1', PANE_SPLIT).attr('y2', PANE_SPLIT)
    .attr('stroke', '#2a2e39').attr('stroke-width', 1)

svg.append('rect')
    .attr('x', FRAME.left).attr('width', PLOT_RIGHT - FRAME.left)
    .attr('y', yRsi(70)).attr('height', yRsi(30) - yRsi(70))
    .attr('fill', 'rgba(126,87,194,0.1)')

rsiBands.forEach(v => {
    svg.append('line')
        .attr('x1', FRAME.left).attr('x2', PLOT_RIGHT)
        .attr('y1', yRsi(v)).attr('y2', yRsi(v))
        .attr('stroke', '#787b86').attr('stroke-width', 1).attr('stroke-dasharray', '5 5')
})

svg.append('path')
    .attr('clip-path', 'url(#aboveBand)')
    .attr('d', d3.area().x((d, i) => x(rsiBars[i])).y0(yRsi(70)).y1(d => yRsi(d))(rsiValues))
    .attr('fill', 'url(#rsiGreen)')

svg.append('path')
    .attr('d', d3.line().x((d, i) => x(rsiBars[i])).y(d => yRsi(d))(rsiValues))
    .attr('fill', 'none').attr('stroke', '#e6e8ee').attr('stroke-width', 1)
svg.append('path')
    .attr('d', d3.line().x((d, i) => x(rsiMaBars[i])).y(d => yRsi(d))(rsiMaValues))
    .attr('fill', 'none').attr('stroke', '#e08600').attr('stroke-width', 1.4)

const rsiAxis = d3.axisRight(yRsi).tickValues(rsiTicks).tickSize(0).tickPadding(0).tickFormat(d3.format('.2f'))
const rsiAxisG = svg.append('g').attr('transform', 'translate(2216,0)').call(rsiAxis)
rsiAxisG.select('.domain').remove()
rsiAxisG.selectAll('text')
    .attr('text-anchor', 'end').attr('fill', TEXT)
    .style('font-family', 'Roboto, sans-serif').style('font-size', '12px').style('font-weight', 500)

svg.append('rect').attr('x', 2178).attr('y', 1113).attr('width', 43).attr('height', 17).attr('fill', '#ff9800')
label(svg, 2216, 1121.5, rsiMaValues[rsiMaValues.length - 1].toFixed(2), 12, '#111111', 500, 'end')
svg.append('rect').attr('x', 2178).attr('y', 1130).attr('width', 43).attr('height', 17).attr('fill', '#ffffff')
label(svg, 2216, 1138.5, rsiValues[rsiValues.length - 1].toFixed(2), 12, '#111111', 500, 'end')

// ---------------------------------------------------------------
// Time axis, frame, footer
// ---------------------------------------------------------------
const xAxis = d3.axisBottom(x).tickValues(dayBars).tickSize(0).tickPadding(0)
    .tickFormat((d, i) => dayLabels[i])
const xAxisG = svg.append('g').attr('transform', 'translate(0,1166.7)').call(xAxis)
xAxisG.select('.domain').remove()
xAxisG.selectAll('text')
    .attr('y', 0).attr('dy', '.35em').attr('fill', TEXT)
    .style('font-family', 'Roboto, sans-serif').style('font-size', '12px').style('font-weight', 500)

svg.append('rect')
    .attr('x', FRAME.left).attr('y', FRAME.top)
    .attr('width', FRAME.right - FRAME.left).attr('height', FRAME.bottom - FRAME.top)
    .attr('fill', 'none').attr('stroke', '#e8eaf0').attr('stroke-width', 1)

label(svg, 14.5, 60, 'Gold Spot / U.S. Dollar \u00b7 1h \u00b7 OANDA', 13, '#eceef2', 500)

const logo = svg.append('g').attr('transform', 'translate(6,1193) scale(0.61)').attr('fill', TEXT)
logo.append('path').attr('d', 'M14 18H7V7H0V0h14v18zM28 18h-8L27.5 0h8L28 18z')
logo.append('circle').attr('cx', 20).attr('cy', 4).attr('r', 4)
label(svg, 33, 1199.5, 'TradingView', 17, TEXT, 500)
</script>
</body>
</html>
